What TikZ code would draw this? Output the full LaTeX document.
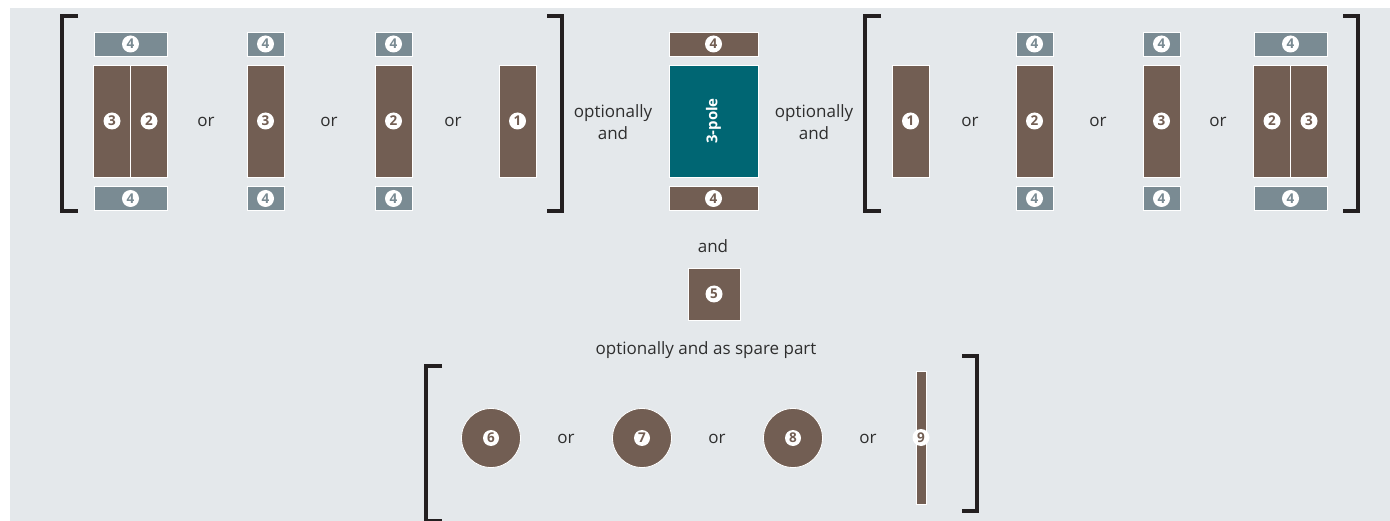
\documentclass[tikz,border=0pt]{standalone}
\usepackage{fontspec}
\setmainfont{Open Sans}
\usepackage{tikz}
\usepackage{xcolor}
\definecolor{paneGray}{HTML}{E4E8EB}
\definecolor{slate}{HTML}{7A8B93}
\definecolor{umber}{HTML}{725E53}
\definecolor{petrol}{HTML}{006673}
\definecolor{ink}{HTML}{2E2E2E}
\definecolor{brk}{HTML}{231F20}

\tikzset{
	part/.style={draw=white, line width=0.8pt, inner sep=0pt, fill=#1},
	tab/.style={part=#1, minimum height=24},
	pole/.style={part=#1, minimum height=112, minimum width=37},
	num/.style={circle, fill=white, text=#1, inner sep=0pt, minimum size=17,
		font=\bfseries\fontsize{13.5}{13.5}\selectfont},
	disc/.style={circle, fill=umber, draw=white, line width=0.8pt, minimum size=59, inner sep=0pt},
	txt/.style={text=ink, font=\fontsize{17}{22}\selectfont, align=center},
	bracket/.style={draw=brk, line width=4pt}
}

\begin{document}
\begin{tikzpicture}[x=1pt,y=-1pt]
	\useasboundingbox (0,0) rectangle (1390,521);
	\fill[paneGray] (10,8) rectangle (1390,521);

	% left group
	\node[tab=slate, minimum width=73] (L1t) at (130.5,44) {};
	\node[pole=umber] (L1a) at (112,121) {};
	\node[pole=umber] (L1b) at (149,121) {};
	\node[tab=slate, minimum width=73] (L1d) at (130.5,198.5) {};
	\node[tab=slate, minimum width=37] (L2t) at (265.5,44) {};
	\node[pole=umber] (L2) at (265.5,121) {};
	\node[tab=slate, minimum width=37] (L2d) at (265.5,198.5) {};
	\node[tab=slate, minimum width=37] (L3t) at (393.5,44) {};
	\node[pole=umber] (L3) at (393.5,121) {};
	\node[tab=slate, minimum width=37] (L3d) at (393.5,198.5) {};
	\node[pole=umber] (L4) at (517.5,121) {};

	\node[num=slate] at (L1t) {4};
	\node[num=umber] at (L1a) {3};
	\node[num=umber] at (L1b) {2};
	\node[num=slate] at (L1d) {4};
	\node[num=slate] at (L2t) {4};
	\node[num=umber] at (L2) {3};
	\node[num=slate] at (L2d) {4};
	\node[num=slate] at (L3t) {4};
	\node[num=umber] at (L3) {2};
	\node[num=slate] at (L3d) {4};
	\node[num=umber] at (L4) {1};

	\node[txt] (or1) at (206,122) {or};
	\node[txt] (or2) at (329,122) {or};
	\node[txt] (or3) at (453,122) {or};

	% breaker in the middle
	\node[tab=umber, minimum width=89] (Ct) at (713.5,44) {};
	\node[part=petrol, minimum width=89, minimum height=112] (C) at (713.5,121) {};
	\node[tab=umber, minimum width=89] (Cd) at (713.5,198.5) {};
	\node[num=umber] at (Ct) {4};
	\node[num=umber] at (Cd) {4};
	\node[rotate=90, text=white, font=\bfseries\fontsize{15}{15}\selectfont] at (C) {3-pole};

	\node[txt] (optL) at (613,122) {optionally\\and};
	\node[txt] (optR) at (814,122) {optionally\\and};

	% right group
	\node[pole=umber] (R1) at (910.5,121) {};
	\node[tab=slate, minimum width=37] (R2t) at (1034.5,44) {};
	\node[pole=umber] (R2) at (1034.5,121) {};
	\node[tab=slate, minimum width=37] (R2d) at (1034.5,198.5) {};
	\node[tab=slate, minimum width=37] (R3t) at (1161.5,44) {};
	\node[pole=umber] (R3) at (1161.5,121) {};
	\node[tab=slate, minimum width=37] (R3d) at (1161.5,198.5) {};
	\node[tab=slate, minimum width=73] (R4t) at (1290.5,44) {};
	\node[pole=umber] (R4a) at (1272,121) {};
	\node[pole=umber] (R4b) at (1309,121) {};
	\node[tab=slate, minimum width=73] (R4d) at (1290.5,198.5) {};

	\node[num=umber] at (R1) {1};
	\node[num=slate] at (R2t) {4};
	\node[num=umber] at (R2) {2};
	\node[num=slate] at (R2d) {4};
	\node[num=slate] at (R3t) {4};
	\node[num=umber] at (R3) {3};
	\node[num=slate] at (R3d) {4};
	\node[num=slate] at (R4t) {4};
	\node[num=umber] at (R4a) {2};
	\node[num=umber] at (R4b) {3};
	\node[num=slate] at (R4d) {4};

	\node[txt] (or4) at (970,122) {or};
	\node[txt] (or5) at (1098,122) {or};
	\node[txt] (or6) at (1218,122) {or};

	% auxiliary part
	\node[txt] (and) at (713,246) {and};
	\node[part=umber, minimum size=52] (P5) at (714,294) {};
	\node[num=umber] at (P5) {5};
	\node[txt] (spare) at (706,350) {optionally and as spare part};

	% bottom group
	\node[disc] (P6) at (491,438) {};
	\node[disc] (P7) at (642,438) {};
	\node[disc] (P8) at (793,438) {};
	\node[part=umber, minimum width=10, minimum height=133] (P9) at (921,437.5) {};
	\node[num=umber, minimum size=16] at (P6) {6};
	\node[num=umber, minimum size=16] at (P7) {7};
	\node[num=umber, minimum size=16] at (P8) {8};
	\node[num=umber, minimum size=17] at (P9) {9};

	\node[txt] (or7) at (566,439) {or};
	\node[txt] (or8) at (717,439) {or};
	\node[txt] (or9) at (868,439) {or};

	% brackets
	\draw[bracket] (78,16) -| (62,211) -- (78,211);
	\draw[bracket] (547,16) -| (562,211) -- (547,211);
	\draw[bracket] (881,16) -| (865,211) -- (881,211);
	\draw[bracket] (1343,16) -| (1358,211) -- (1343,211);
	\draw[bracket] (442,366) -| (426,521) -- (442,521);
	\draw[bracket] (962,356) -| (977,511) -- (962,511);
\end{tikzpicture}
\end{document}
